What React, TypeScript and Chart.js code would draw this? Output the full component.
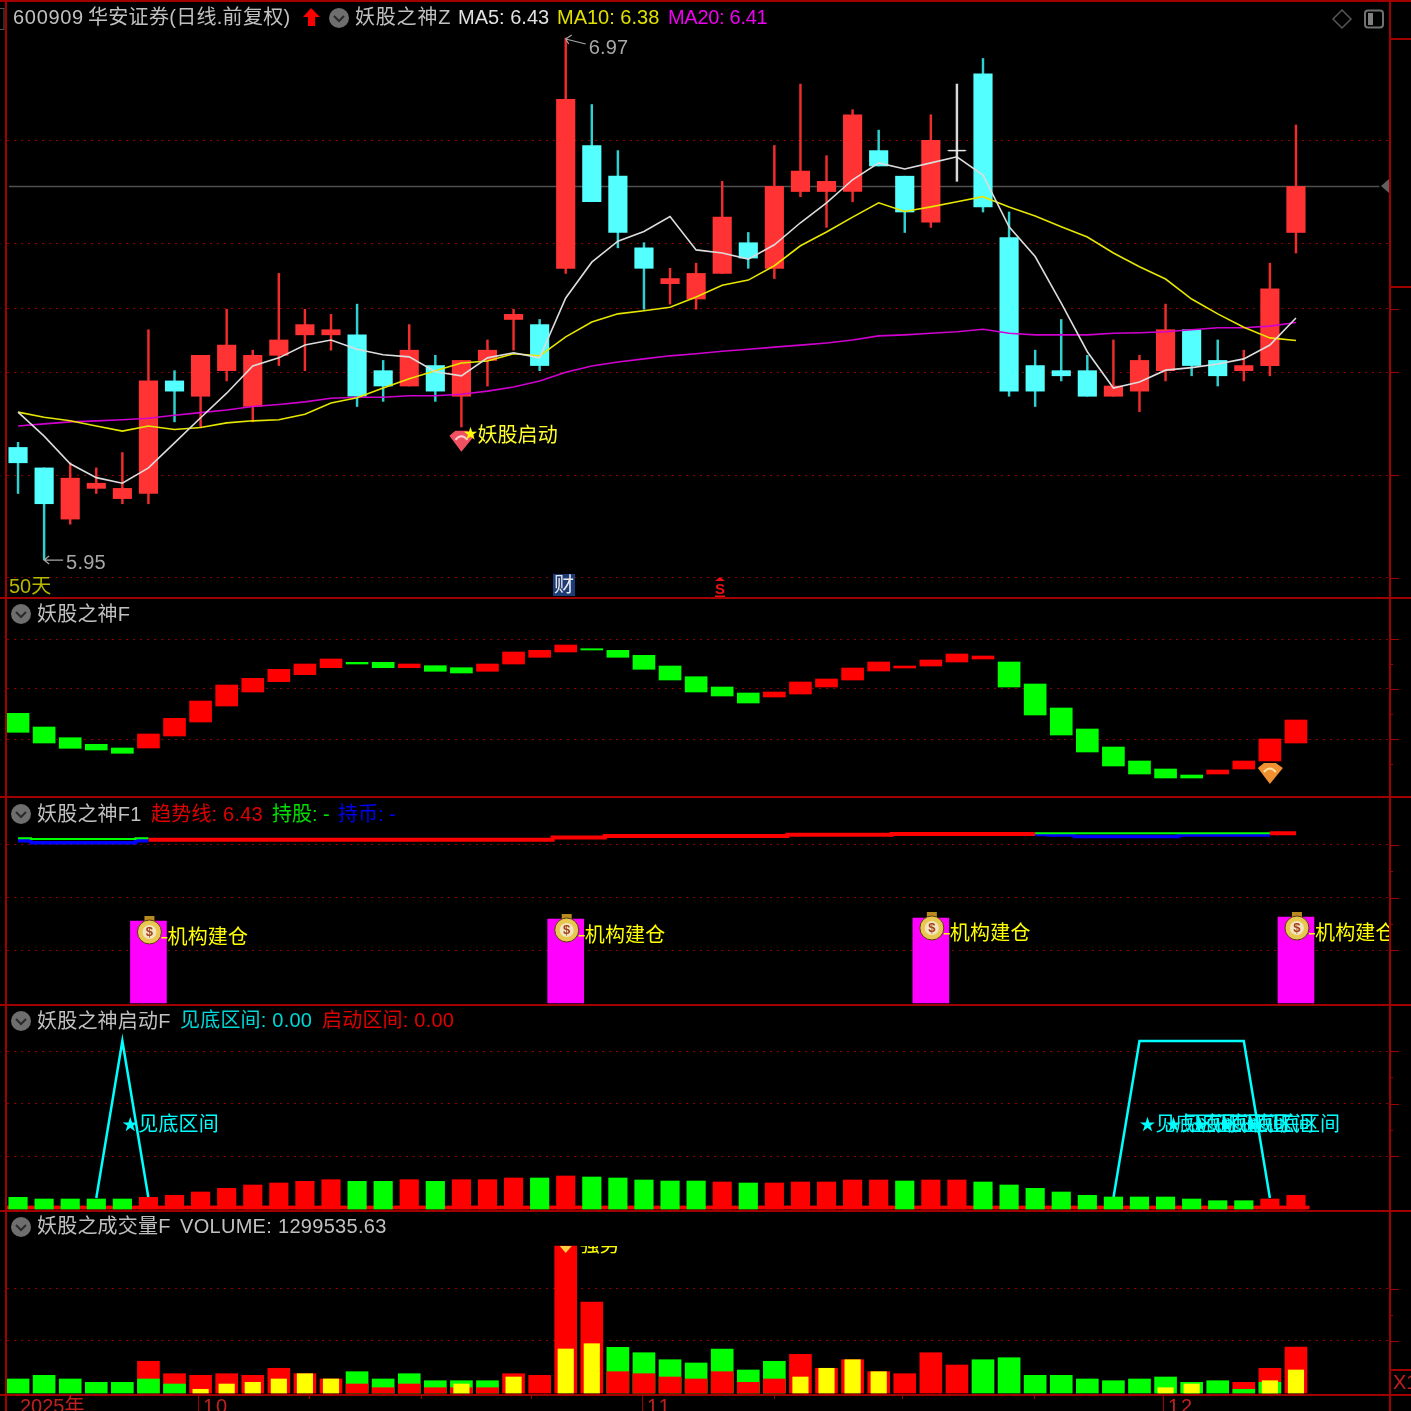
import React, { useEffect, useRef } from "react";
import { Chart, registerables } from "chart.js";
Chart.register(...registerables);

// ---- main pane: daily candles (price, CNY)
const opens = [6.17,6.13,6.03,6.09,6.07,6.08,6.30,6.27,6.32,6.25,6.35,6.39,6.39,6.39,6.32,6.29,6.33,6.27,6.34,6.42,6.41,6.52,6.76,6.70,6.56,6.49,6.46,6.51,6.57,6.52,6.67,6.67,6.67,6.75,6.70,6.61,6.75,6.90,6.58,6.33,6.32,6.32,6.27,6.28,6.32,6.40,6.34,6.32,6.33,6.59];
const closes = [6.14,6.06,6.11,6.10,6.09,6.30,6.28,6.35,6.37,6.35,6.38,6.41,6.40,6.27,6.29,6.36,6.28,6.34,6.36,6.43,6.33,6.85,6.65,6.59,6.52,6.50,6.51,6.62,6.54,6.68,6.71,6.69,6.82,6.72,6.63,6.77,6.75,6.64,6.28,6.28,6.31,6.27,6.29,6.34,6.40,6.33,6.31,6.33,6.48,6.68];
const highs = [6.18,6.13,6.14,6.13,6.16,6.40,6.32,6.35,6.44,6.36,6.51,6.44,6.43,6.45,6.34,6.41,6.35,6.34,6.38,6.44,6.42,6.97,6.84,6.75,6.57,6.52,6.53,6.69,6.59,6.76,6.88,6.74,6.83,6.79,6.70,6.82,6.88,6.93,6.63,6.36,6.42,6.35,6.38,6.35,6.45,6.40,6.38,6.36,6.53,6.80];
const lows = [6.08,5.95,6.02,6.08,6.06,6.06,6.22,6.21,6.30,6.22,6.33,6.32,6.36,6.25,6.26,6.29,6.26,6.21,6.29,6.36,6.32,6.51,6.65,6.56,6.44,6.45,6.44,6.51,6.52,6.50,6.66,6.60,6.65,6.72,6.59,6.60,6.69,6.63,6.27,6.25,6.30,6.27,6.27,6.24,6.30,6.31,6.29,6.30,6.31,6.55];
const ma5 = [6.239,6.192,6.138,6.111,6.100,6.130,6.179,6.228,6.276,6.329,6.345,6.370,6.380,6.362,6.351,6.347,6.318,6.310,6.345,6.355,6.345,6.462,6.532,6.573,6.592,6.621,6.556,6.550,6.538,6.566,6.609,6.648,6.693,6.726,6.714,6.726,6.738,6.702,6.601,6.543,6.452,6.357,6.286,6.298,6.321,6.326,6.333,6.343,6.370,6.423];
const ma10 = [6.239,6.229,6.222,6.212,6.202,6.212,6.205,6.209,6.218,6.222,6.224,6.235,6.257,6.267,6.286,6.304,6.320,6.335,6.339,6.353,6.349,6.386,6.415,6.431,6.437,6.444,6.464,6.487,6.497,6.525,6.564,6.591,6.620,6.648,6.631,6.640,6.650,6.660,6.640,6.622,6.601,6.581,6.550,6.523,6.499,6.460,6.431,6.405,6.384,6.379];
const ma20 = [6.212,6.216,6.220,6.222,6.224,6.227,6.233,6.238,6.243,6.250,6.254,6.259,6.266,6.268,6.268,6.271,6.271,6.274,6.280,6.288,6.300,6.317,6.329,6.337,6.343,6.349,6.353,6.358,6.362,6.366,6.370,6.374,6.380,6.388,6.390,6.393,6.396,6.401,6.393,6.390,6.390,6.390,6.393,6.394,6.396,6.400,6.404,6.404,6.407,6.414];
const lastPrice = 6.68;
const priceGrid = [6.769,6.5675,6.441,6.317,6.116,5.915];

// ---- 妖股之神F
const oscHigh = [84.7,71,60.3,53.7,50,64,79.7,97,113,119.7,128.7,134,139,135.7,135.7,134,132.3,130.3,134,146,147.7,153,149.3,147.7,142.7,132,121.3,111,105,106,116,119,130,136,132,138,144,142,136,114,90,69,51,37,29,23,28,37,59,78];
const oscLow = [65.7,55,49.7,48,44.7,50,62,76,92,106,116.3,123.3,130.3,134,130.3,130.3,126.7,125,126.7,134,140.7,146,148,140.7,128.7,118,106,102,95,101,104,111,118,127,130,132,136,139,111,83,63,46,32,24,20,20,24,29,37,55];
const oscUp = [0,0,0,0,0,1,1,1,1,1,1,1,1,0,0,1,0,0,1,1,1,1,0,0,0,0,0,0,0,1,1,1,1,1,1,1,1,1,0,0,0,0,0,0,0,0,1,1,1,1];
const oscGrid = [159,109,59];

// ---- 妖股之神F1
const trendLine = [null,null,null,null,null,166.3,166.3,166.3,166.3,166.3,166.3,166.3,166.3,166.3,166.3,166.3,166.3,166.3,166.3,166.3,166.3,168.5,168.5,170,170,170,170,170,170,170,171.2,171.2,171.2,171.2,172,172,172,172,172,172,null,null,null,null,null,null,null,null,172.7,172.7];
const holdLine = [167.7,167,167,167,167,167.7,null,null,null,null,null,null,null,null,null,null,null,null,null,null,null,null,null,null,null,null,null,null,null,null,null,null,null,null,null,null,null,null,null,172.7,172.7,172.7,172.7,172.7,172.7,172.7,172.7,172.7,172.7,null];
const cashLine = [165.3,163.3,163.3,163.3,163.3,165.3,null,null,null,null,null,null,null,null,null,null,null,null,null,null,null,null,null,null,null,null,null,null,null,null,null,null,null,null,null,null,null,null,null,171.5,171,169.5,169.5,169.5,169.5,171,171,171,171,null];
const instBars = [null,null,null,null,null,85,null,null,null,null,null,null,null,null,null,null,null,null,null,null,null,87,null,null,null,null,null,null,null,null,null,null,null,null,null,88,null,null,null,null,null,null,null,null,null,null,null,null,null,89];
const instFloor = 3;
const instLabelIdx = [5,21,35,49];
const instLabelLevel = [69,71,73,73];
const instLabel = "机构建仓";
const f1Grid = [161,108.3,56];

// ---- 妖股之神启动F
const startBars = [11.7,10,10,10,10,11.7,13.7,17,20.7,24,26,27.7,29.3,27.7,27.7,29.3,27.7,29.3,29.3,31,31,33,32,31,29,28,28,27,26,26,27,27,29,29,28,29,29,27,24,20.7,17,13.7,12,12,12,10,8.3,8.3,10,13.7];
const startUp = [0,0,0,0,0,1,1,1,1,1,1,1,1,0,0,1,0,1,1,1,0,1,0,0,0,0,0,1,0,1,1,1,1,1,0,1,1,0,0,0,0,0,0,0,0,0,0,0,1,1];
const bottomZone = [null,null,null,11,168,11,null,null,null,null,null,null,null,null,null,null,null,null,null,null,null,null,null,null,null,null,null,null,null,null,null,null,null,null,null,null,null,null,null,null,null,null,11,168,168,168,168,168,11,null];
const zoneLabelIdx = [4,43,44,45,46,47];
const zoneLabelLevel = 85;
const startGrid = [158,105.3,53];
const startBase = 3;

// ---- 妖股之成交量F (万)
const volume = [39.6,50,39.6,30.2,30.2,89.6,54.5,50,54.5,50,69.8,54.5,39.6,60.2,39.6,54.5,34.7,34.7,34.7,54.5,50,415.3,257,129,113.8,94,84.8,124.3,65,89.6,109.3,69.8,94,60.2,54.5,113.8,79.1,94,99.7,50,50,39.6,34.7,39.6,45.2,30.2,34.7,30.2,69.8,129.9];
const volUp = [0,0,0,0,0,1,1,1,1,1,1,1,1,0,0,0,0,0,0,1,1,1,1,0,0,0,0,0,0,0,1,1,1,1,1,1,1,0,0,0,0,0,0,0,0,0,0,1,1,1];
const volMid = [null,null,null,null,null,39.6,25.4,null,null,null,null,null,null,25.4,15,25.4,15,15,15,null,null,null,null,60.2,54.5,45.2,39.6,60.2,30.2,39.6,null,null,null,null,null,null,null,null,null,null,null,null,null,null,null,null,null,10.5,30.2,null];
const volStrong = [null,null,null,null,null,null,null,10.5,25.4,30.2,39.6,54.5,39.6,null,null,null,null,25.4,null,45.2,null,124.3,139.3,null,null,null,null,null,null,null,45.2,69.8,94,60.2,null,null,null,null,null,null,null,null,null,null,15,25.4,null,null,34.7,65];
const volGrid = [293.8,146.9];

// ---- time axis
const monthTicks = [[6.9,"10"],[23.93,"11"],[43.9,"12"]];
const minorDays = [11.15,15.45,19.65,29,33.9,38.95];
const yearLabel = "2025年";

const C = { red:"#ff0000", green:"#00ff00", candleRed:"#ff3333", candleCyan:"#54ffff", wickCyan:"#30d0d0", frame:"#a00000", grid:"#8c0000", grey:"#c0c0c0", yellow:"#ffff00", cyan:"#00ffff", magenta:"#ff00ff" };
const FONT = '20px "Liberation Sans","Noto Sans CJK SC",sans-serif';
const STEP = 26.08, X0 = 18.04, L = 7, R = 1390, W = 1411;
const xMin = (L - X0) / STEP, xMax = (R - X0) / STEP;

const pts = (a:any[]) => a.map((y,x)=>({x,y}));
const bar = (extra:any) => ({ type:"bar", grouped:false, borderWidth:0, ...extra });
const line = (extra:any) => ({ type:"line", pointRadius:0, tension:0, spanGaps:false, borderJoinStyle:"miter", ...extra });

function text(ctx:any, s:string, x:number, y:number, color:string, spacing=0, font=FONT){
  ctx.save(); ctx.font=font; ctx.fillStyle=color; ctx.textAlign="left"; ctx.textBaseline="middle";
  ctx.letterSpacing = spacing+"px"; ctx.fillText(s,x,y); ctx.restore();
}
function badge(ctx:any,x:number,y:number){
  ctx.save();
  ctx.fillStyle="#6e6e6e"; ctx.beginPath(); ctx.arc(x,y,10,0,Math.PI*2); ctx.fill();
  ctx.strokeStyle="#2a2a2a"; ctx.lineWidth=2; ctx.beginPath(); ctx.moveTo(x-5,y-2); ctx.lineTo(x,y+3); ctx.lineTo(x+5,y-2); ctx.stroke();
  ctx.restore();
}
function gem(ctx:any,x:number,y:number,main:string,light:string){
  ctx.save();
  ctx.fillStyle=main; ctx.beginPath(); ctx.moveTo(x-12,y-5); ctx.lineTo(x-6,y-10); ctx.lineTo(x+6,y-10); ctx.lineTo(x+13,y-5); ctx.lineTo(x,y+11); ctx.closePath(); ctx.fill();
  ctx.strokeStyle=light; ctx.lineWidth=2; ctx.beginPath(); ctx.moveTo(x-6,y-1); ctx.quadraticCurveTo(x,y-8,x+6,y-1); ctx.stroke();
  ctx.restore();
}
function moneyBag(ctx:any,x:number,y:number){
  ctx.save();
  ctx.fillStyle="#b88a20"; ctx.fillRect(x-5,y-16,10,5);
  ctx.fillStyle="#e8c850"; ctx.beginPath(); ctx.ellipse(x,y,12,12,0,0,Math.PI*2); ctx.fill();
  ctx.strokeStyle="#5a3a10"; ctx.lineWidth=1; ctx.stroke();
  ctx.fillStyle="#f2e6c0"; ctx.beginPath(); ctx.arc(x,y,7,0,Math.PI*2); ctx.fill();
  ctx.font='bold 13px "Liberation Sans"'; ctx.fillStyle="#a04020"; ctx.textAlign="center"; ctx.textBaseline="middle"; ctx.fillText("$",x,y);
  ctx.restore();
}
function frame(chart:any, h:number, major:number[], long:number[], minor:number[]){
  const ctx=chart.ctx, y=chart.scales.y;
  ctx.save();
  ctx.fillStyle=C.frame;
  ctx.fillRect(5,0,2,h);
  ctx.fillRect(R-1,0,2,h);
  ctx.fillRect(0,h-2,W,2);
  major.forEach(v=>ctx.fillRect(R,Math.round(y.getPixelForValue(v)),9,1));
  long.forEach(v=>ctx.fillRect(R,Math.round(y.getPixelForValue(v)),W-R,2));
  minor.forEach(v=>ctx.fillRect(R,Math.round(y.getPixelForValue(v)),3,1));
  ctx.restore();
}

function makeChart(canvas:HTMLCanvasElement, datasets:any[], grid:number[], yMin:number, yMax:number, draw:(c:any)=>void, bottomPad=0){
  return new Chart(canvas,{
    type:"bar",
    data:{datasets},
    options:{
      responsive:false, animation:false, events:[],
      layout:{autoPadding:false,padding:{left:L,right:W-R,top:0,bottom:bottomPad}},
      plugins:{legend:{display:false},tooltip:{enabled:false},title:{display:false}},
      scales:{
        x:{type:"linear",display:false,offset:false,min:xMin,max:xMax,grid:{display:false}},
        y:{type:"linear",min:yMin,max:yMax,
           afterBuildTicks:(s:any)=>{s.ticks=grid.map(value=>({value}));},
           ticks:{display:false},
           grid:{drawTicks:false,color:C.grid,lineWidth:1},
           border:{display:false,dash:[2,5]}}
      }
    },
    plugins:[{id:"overlay",afterDraw:(c:any)=>draw(c)}]
  } as any);
}

const PANES = [
  {top:0,height:599},
  {top:599,height:199},
  {top:798,height:208},
  {top:1006,height:206},
  {top:1212,height:199},
];

export default function App(){
  const refs = useRef<(HTMLCanvasElement|null)[]>([]);
  useEffect(()=>{
    document.body.style.background="#000";
    const [c1,c2,c3,c4,c5] = refs.current as HTMLCanvasElement[];
    const charts:any[]=[];

    // ---- price pane
    const candleColor=(i:number)=>closes[i]>opens[i]?C.candleRed:closes[i]<opens[i]?C.candleCyan:"#e8e8e8";
    const wickColor=(i:number)=>closes[i]>opens[i]?"#f02c2c":closes[i]<opens[i]?C.wickCyan:"#d8d8d8";
    const pMax=6.97+38/511.8, pMin=6.97-561/511.8;
    charts.push(makeChart(c1,[
      line({data:pts(ma5),borderColor:"#dcdcdc",borderWidth:1.6,order:1}),
      line({data:pts(ma10),borderColor:"#e6e600",borderWidth:1.6,order:1}),
      line({data:pts(ma20),borderColor:"#d000d0",borderWidth:1.6,order:1}),
      { type:"scatter",data:opens.map((o,i)=>({x:i,y:o===closes[i]?o:null})),pointStyle:"line",pointRadius:8.5,pointBorderColor:"#e8e8e8",pointBorderWidth:1.5,order:2 },
      bar({data:opens.map((o,i)=>({x:i,y:[o,closes[i]]})),barThickness:18.5,backgroundColor:opens.map((_,i)=>candleColor(i)),order:3}),
      bar({data:lows.map((l,i)=>({x:i,y:[l,highs[i]]})),barThickness:1.8,backgroundColor:lows.map((_,i)=>wickColor(i)),order:4}),
      line({data:[{x:0-0.35,y:lastPrice},{x:52.2,y:lastPrice}],borderColor:"#505050",borderWidth:1.5,order:5}),
    ],priceGrid,pMin,pMax,(c)=>{
      const ctx=c.ctx, xs=c.scales.x, ys=c.scales.y;
      frame(c,599,[6.441,6.317,6.116,5.915],[6.97,6.485],[]);
      ctx.save();
      ctx.fillStyle=C.frame; ctx.fillRect(0,0,W,2);
      ctx.strokeStyle="#555"; ctx.strokeRect(-3,8.5,7,21);
      ctx.restore();
      // header
      text(ctx,"600909",13,18,C.grey,0.7);
      text(ctx,"华安证券(日线.前复权)",88,18,C.grey,0.3);
      ctx.save(); ctx.fillStyle="#ff0000"; ctx.beginPath();
      [[311,8],[320,17],[315,17],[315,26],[308,26],[308,17],[303,17]].forEach((p,i)=>i?ctx.lineTo(p[0],p[1]):ctx.moveTo(p[0],p[1]));
      ctx.closePath(); ctx.fill(); ctx.restore();
      badge(ctx,339,18);
      text(ctx,"妖股之神Z",355,18,C.grey,0.8);
      text(ctx,"MA5: 6.43",458,18,"#e0e0e0");
      text(ctx,"MA10: 6.38",557,18,"#e0e000");
      text(ctx,"MA20: 6.41",668,18,"#f000f0",-0.3);
      // right icons
      ctx.save(); ctx.strokeStyle="#555"; ctx.lineWidth=1.5; ctx.beginPath();
      ctx.moveTo(1342,10); ctx.lineTo(1351,19); ctx.lineTo(1342,28); ctx.lineTo(1333,19); ctx.closePath(); ctx.stroke();
      ctx.strokeStyle="#707070"; ctx.lineWidth=2; ctx.beginPath(); ctx.roundRect(1365,10.5,18,17,3); ctx.stroke();
      ctx.fillStyle="#808080"; ctx.fillRect(1368,13,5,12);
      ctx.fillStyle="#606060"; ctx.beginPath(); ctx.moveTo(1389,179); ctx.lineTo(1381,186); ctx.lineTo(1389,193); ctx.closePath(); ctx.fill();
      ctx.restore();
      // high / low marks
      const hx=xs.getPixelForValue(21), hy=ys.getPixelForValue(highs[21]);
      const lx=xs.getPixelForValue(1), ly=ys.getPixelForValue(lows[1]);
      ctx.save(); ctx.strokeStyle="#a8a8a8"; ctx.lineWidth=1.2; ctx.beginPath();
      ctx.moveTo(hx,hy+1); ctx.lineTo(hx+20,hy+6); ctx.moveTo(hx,hy+1); ctx.lineTo(hx+6,hy-3); ctx.moveTo(hx,hy+1); ctx.lineTo(hx+3,hy+6);
      ctx.moveTo(lx,ly); ctx.lineTo(lx+19,ly); ctx.moveTo(lx,ly); ctx.lineTo(lx+5,ly-4); ctx.moveTo(lx,ly); ctx.lineTo(lx+5,ly+4); ctx.stroke(); ctx.restore();
      text(ctx,"6.97",hx+23,hy+10,"#a8a8a8",0.2);
      text(ctx,"5.95",lx+22,ly+3,"#a8a8a8",0.2);
      text(ctx,"50天",9,587,"#b8b800");
      ctx.save(); ctx.fillStyle="#1c3c78"; ctx.fillRect(553,574,22,22); ctx.restore();
      text(ctx,"财",554,586,"#e8e8e8");
      ctx.save(); ctx.fillStyle="#f01010"; ctx.beginPath(); ctx.moveTo(720,577); ctx.lineTo(725,581); ctx.lineTo(715,581); ctx.closePath(); ctx.fill(); ctx.restore();
      text(ctx,"S",715,590,"#f01010",0,'bold 15px "Liberation Sans"');
      ctx.save(); ctx.fillStyle="#f01010"; ctx.fillRect(715,595.5,10,1.5); ctx.restore();
      // signal
      const sx=xs.getPixelForValue(17);
      gem(ctx,sx,ys.getPixelForValue(6.183),"#f05060","#ffd0d0");
      text(ctx,"★",sx+2,ys.getPixelForValue(6.198),C.yellow,0,'14px "Noto Sans CJK SC"');
      text(ctx,"妖股启动",sx+16,ys.getPixelForValue(6.192),"#ffff30",0.1);
    }));

    // ---- oscillator pane
    charts.push(makeChart(c2,[
      bar({data:oscLow.map((l,i)=>({x:i,y:[l,oscHigh[i]]})),barThickness:22,backgroundColor:oscUp.map(u=>u?C.red:C.green)}),
    ],oscGrid,0,199,(c)=>{
      const ctx=c.ctx, xs=c.scales.x, ys=c.scales.y;
      frame(c,199,oscGrid,[],[134,84,34]);
      badge(ctx,21,15);
      text(ctx,"妖股之神F",37,16,C.grey,0.2);
      gem(ctx,xs.getPixelForValue(48),ys.getPixelForValue(25),"#f09030","#ffe0a0");
    }));

    // ---- trend + institution pane
    charts.push(makeChart(c3,[
      line({data:pts(holdLine),borderColor:C.green,borderWidth:2,stepped:"middle",order:1}),
      line({data:pts(cashLine),borderColor:"#0000ff",borderWidth:3.5,stepped:"middle",order:2}),
      line({data:pts(trendLine),borderColor:C.red,borderWidth:4,stepped:"middle",order:3}),
      bar({data:instBars.map((v,i)=>({x:i,y:v===null?null:[instFloor,v]})),barThickness:36,backgroundColor:C.magenta,order:4}),
    ],f1Grid,0,208,(c)=>{
      const ctx=c.ctx, xs=c.scales.x, ys=c.scales.y;
      frame(c,208,f1Grid,[],[135,82.3]);
      badge(ctx,21,16);
      text(ctx,"妖股之神F1",37,17,C.grey,0.2);
      text(ctx,"趋势线: 6.43",151,17,"#e00000",0.2);
      text(ctx,"持股: -",272,17,"#00e000");
      text(ctx,"持币: -",338,17,"#0000f0");
      ctx.save(); ctx.beginPath(); ctx.rect(0,0,R-1,208); ctx.clip();
      instLabelIdx.forEach((d,i)=>{
        const px=xs.getPixelForValue(d), py=ys.getPixelForValue(instLabelLevel[i]);
        moneyBag(ctx,px+1,py-5);
        ctx.fillStyle=C.yellow; ctx.fillRect(px+13,py,6,1.5);
        text(ctx,instLabel,px+19,py+1.5,C.yellow,0.2);
      });
      ctx.restore();
    }));

    // ---- start zone pane
    charts.push(makeChart(c4,[
      bar({data:pts(startBars),barThickness:18.5,backgroundColor:startUp.map(u=>u?C.red:C.green),order:1}),
      line({data:pts(bottomZone),borderColor:C.cyan,borderWidth:2.5,order:2}),
      bar({data:startBars.map((_,i)=>({x:i,y:startBase})),barThickness:26.5,backgroundColor:C.red,order:3}),
    ],startGrid,-3,203,(c)=>{
      const ctx=c.ctx, xs=c.scales.x, ys=c.scales.y;
      frame(c,206,startGrid,[],[132,79]);
      badge(ctx,21,15);
      text(ctx,"妖股之神启动F",37,16,C.grey,0.2);
      text(ctx,"见底区间: 0.00",180,15.5,"#00d8d8",0.2);
      text(ctx,"启动区间: 0.00",322,15.5,"#e00000",0.2);
      zoneLabelIdx.forEach(d=>{
        const px=xs.getPixelForValue(d), py=ys.getPixelForValue(zoneLabelLevel);
        text(ctx,"★",px,py,C.cyan,0,'16px "Noto Sans CJK SC"');
        text(ctx,"见底区间",px+16,py+1,C.cyan,0.1);
      });
    }));

    // ---- volume pane
    charts.push(makeChart(c5,[
      bar({data:pts(volStrong),barThickness:15.5,backgroundColor:C.yellow,order:1}),
      bar({data:pts(volMid),barThickness:22,backgroundColor:volUp.map(u=>u?C.green:C.red),order:2}),
      bar({data:pts(volume),barThickness:22,backgroundColor:volUp.map(u=>u?C.red:C.green),order:3}),
    ],volGrid,-2.825,511.3,(c)=>{
      const ctx=c.ctx, xs=c.scales.x, ys=c.scales.y;
      const f=182;
      ctx.save();
      ctx.fillStyle=C.frame;
      ctx.fillRect(5,0,2,199); ctx.fillRect(R-1,0,2,199);
      ctx.fillRect(0,f,W,2);
      volGrid.forEach(v=>ctx.fillRect(R,Math.round(ys.getPixelForValue(v)),9,1));
      ctx.fillRect(R,Math.round(ys.getPixelForValue(220)),3,1);
      ctx.fillRect(R,157,W-R,2);
      ctx.restore();
      badge(ctx,21,15);
      text(ctx,"妖股之成交量F",37,15.5,C.grey,0.2);
      text(ctx,"VOLUME: 1299535.63",180,15.5,C.grey,0.3);
      // strong-volume tag, cut by the pane top
      const sx=xs.getPixelForValue(21), sy=ys.getPixelForValue(volume[21]);
      ctx.save(); ctx.fillStyle="#ffd040"; ctx.beginPath(); ctx.moveTo(sx-6,sy); ctx.lineTo(sx+6,sy); ctx.lineTo(sx,sy+7); ctx.closePath(); ctx.fill();
      ctx.beginPath(); ctx.rect(sx+7,sy,60,12); ctx.clip();
      text(ctx,"强势",sx+14,sy+1,C.yellow); ctx.restore();
      ctx.save(); ctx.beginPath(); ctx.rect(1391,159,20,23); ctx.clip(); text(ctx,"X1",1393,171,"#c02020"); ctx.restore();
      // time axis
      monthTicks.forEach(([d,t]:any)=>{
        const px=Math.round(xs.getPixelForValue(d));
        ctx.save(); ctx.fillStyle=C.frame; ctx.fillRect(px,f+1,1,17); ctx.restore();
        text(ctx,t,px+5,f+13,"#c02020",2);
      });
      minorDays.forEach(d=>{ ctx.save(); ctx.fillStyle=C.frame; ctx.fillRect(Math.round(xs.getPixelForValue(d)),f+1,1,4); ctx.restore(); });
      text(ctx,yearLabel,20,f+13,"#c02020");
    },17));

    return ()=>charts.forEach(c=>c.destroy());
  },[]);
  return (
    <div style={{position:"absolute",left:0,top:0,width:W,height:W,background:"#000",overflow:"hidden"}}>
      {PANES.map((p,i)=>(
        <canvas key={i} ref={el=>{refs.current[i]=el;}} width={W} height={p.height}
          style={{position:"absolute",left:0,top:p.top,width:W,height:p.height,display:"block"}}/>
      ))}
    </div>
  );
}
